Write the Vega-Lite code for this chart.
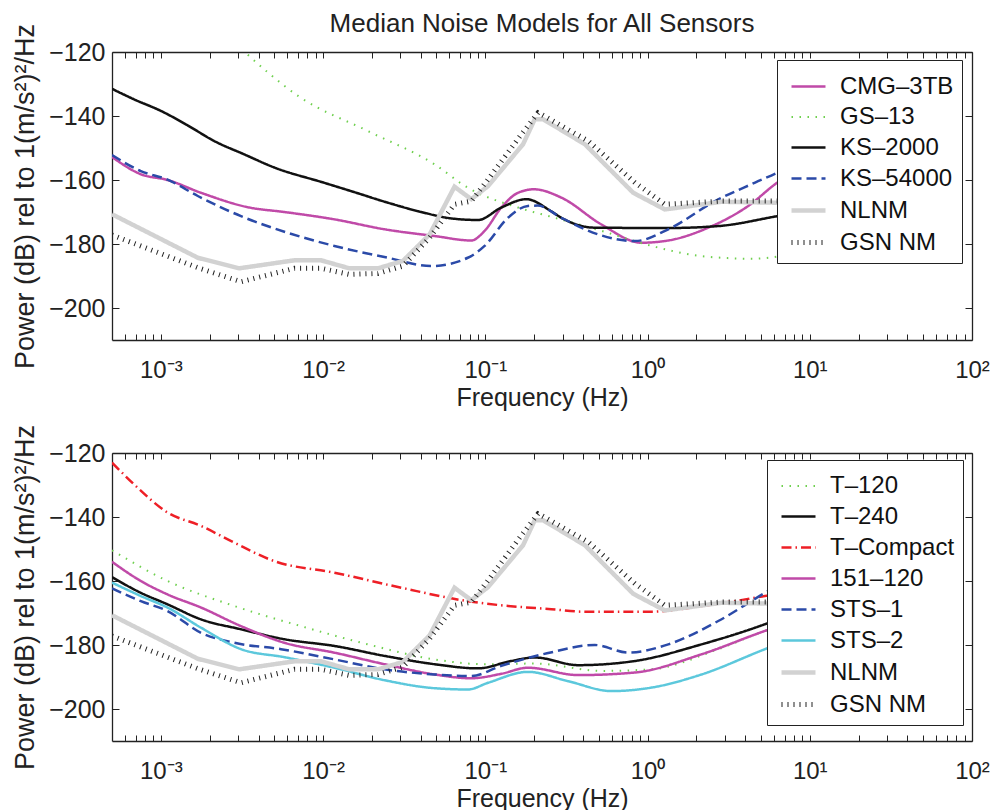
{
  "$schema": "https://vega.github.io/schema/vega-lite/v6.json",
  "title": {"text": "Median Noise Models for All Sensors", "fontSize": 26, "font": "Liberation Sans", "fontWeight": "normal", "color": "#222", "anchor": "middle", "frame": "group", "offset": -14},
  "padding": {"left": 11, "top": 11, "right": 5, "bottom": 0},
  "datasets": {
    "top": [
      {"s": "CMG–3TB", "f": 0.0005, "db": -152.8},
      {"s": "CMG–3TB", "f": 0.000753, "db": -158.2},
      {"s": "CMG–3TB", "f": 0.0011, "db": -160},
      {"s": "CMG–3TB", "f": 0.00177, "db": -164},
      {"s": "CMG–3TB", "f": 0.00351, "db": -168.6},
      {"s": "CMG–3TB", "f": 0.00577, "db": -170},
      {"s": "CMG–3TB", "f": 0.01175, "db": -172.3},
      {"s": "CMG–3TB", "f": 0.0239, "db": -175.4},
      {"s": "CMG–3TB", "f": 0.0486, "db": -177.5},
      {"s": "CMG–3TB", "f": 0.082, "db": -178.9},
      {"s": "CMG–3TB", "f": 0.099, "db": -175.9},
      {"s": "CMG–3TB", "f": 0.1256, "db": -168.6},
      {"s": "CMG–3TB", "f": 0.159, "db": -164},
      {"s": "CMG–3TB", "f": 0.2, "db": -162.9},
      {"s": "CMG–3TB", "f": 0.294, "db": -165.5},
      {"s": "CMG–3TB", "f": 0.52, "db": -173.9},
      {"s": "CMG–3TB", "f": 0.918, "db": -179.6},
      {"s": "CMG–3TB", "f": 1.343, "db": -178.9},
      {"s": "CMG–3TB", "f": 2.366, "db": -174.9},
      {"s": "CMG–3TB", "f": 4.178, "db": -168.1},
      {"s": "CMG–3TB", "f": 6.31, "db": -160.8},
      {"s": "CMG–3TB", "f": 9, "db": -156},
      {"s": "GS–13", "f": 0.0029, "db": -117.5},
      {"s": "GS–13", "f": 0.0073, "db": -134.3},
      {"s": "GS–13", "f": 0.0189, "db": -144.7},
      {"s": "GS–13", "f": 0.0486, "db": -155.1},
      {"s": "GS–13", "f": 0.078, "db": -162.4},
      {"s": "GS–13", "f": 0.159, "db": -168.6},
      {"s": "GS–13", "f": 0.255, "db": -171.5},
      {"s": "GS–13", "f": 0.52, "db": -175.9},
      {"s": "GS–13", "f": 1.059, "db": -180.6},
      {"s": "GS–13", "f": 2.153, "db": -183.8},
      {"s": "GS–13", "f": 4.385, "db": -184.6},
      {"s": "GS–13", "f": 7.745, "db": -183.2},
      {"s": "GS–13", "f": 10, "db": -182},
      {"s": "KS–2000", "f": 0.0005, "db": -131.5},
      {"s": "KS–2000", "f": 0.000684, "db": -134.8},
      {"s": "KS–2000", "f": 0.001, "db": -138.4},
      {"s": "KS–2000", "f": 0.00146, "db": -142.9},
      {"s": "KS–2000", "f": 0.00213, "db": -147.8},
      {"s": "KS–2000", "f": 0.00327, "db": -152},
      {"s": "KS–2000", "f": 0.00501, "db": -156.1},
      {"s": "KS–2000", "f": 0.01005, "db": -160.8},
      {"s": "KS–2000", "f": 0.0156, "db": -163.8},
      {"s": "KS–2000", "f": 0.0251, "db": -167.1},
      {"s": "KS–2000", "f": 0.0403, "db": -170},
      {"s": "KS–2000", "f": 0.0617, "db": -172},
      {"s": "KS–2000", "f": 0.0902, "db": -172.5},
      {"s": "KS–2000", "f": 0.1256, "db": -168.6},
      {"s": "KS–2000", "f": 0.1791, "db": -166},
      {"s": "KS–2000", "f": 0.2553, "db": -169.8},
      {"s": "KS–2000", "f": 0.2944, "db": -171.8},
      {"s": "KS–2000", "f": 0.4732, "db": -174.9},
      {"s": "KS–2000", "f": 1.343, "db": -175},
      {"s": "KS–2000", "f": 2.729, "db": -174.4},
      {"s": "KS–2000", "f": 6.31, "db": -171.3},
      {"s": "KS–2000", "f": 10, "db": -169.5},
      {"s": "KS–54000", "f": 0.0005, "db": -152.2},
      {"s": "KS–54000", "f": 0.000753, "db": -157.2},
      {"s": "KS–54000", "f": 0.0011, "db": -159.9},
      {"s": "KS–54000", "f": 0.00169, "db": -165},
      {"s": "KS–54000", "f": 0.00312, "db": -171.3},
      {"s": "KS–54000", "f": 0.00605, "db": -176.5},
      {"s": "KS–54000", "f": 0.01175, "db": -180.6},
      {"s": "KS–54000", "f": 0.0251, "db": -184.3},
      {"s": "KS–54000", "f": 0.0465, "db": -186.9},
      {"s": "KS–54000", "f": 0.078, "db": -184.3},
      {"s": "KS–54000", "f": 0.099, "db": -180.6},
      {"s": "KS–54000", "f": 0.138, "db": -171.8},
      {"s": "KS–54000", "f": 0.1832, "db": -168.1},
      {"s": "KS–54000", "f": 0.21, "db": -168},
      {"s": "KS–54000", "f": 0.2944, "db": -171.8},
      {"s": "KS–54000", "f": 0.4955, "db": -177},
      {"s": "KS–54000", "f": 0.8356, "db": -179.1},
      {"s": "KS–54000", "f": 1.343, "db": -175.4},
      {"s": "KS–54000", "f": 2.606, "db": -166.6},
      {"s": "KS–54000", "f": 4.603, "db": -160.8},
      {"s": "KS–54000", "f": 6.31, "db": -157.7},
      {"s": "KS–54000", "f": 10, "db": -152}
    ],
    "refs": [
      {"s": "NLNM", "f": 0.0005, "db": -170.7},
      {"s": "NLNM", "f": 0.00169, "db": -184.3},
      {"s": "NLNM", "f": 0.00304, "db": -187.6},
      {"s": "NLNM", "f": 0.00665, "db": -185.1},
      {"s": "NLNM", "f": 0.00973, "db": -185.1},
      {"s": "NLNM", "f": 0.01452, "db": -187.6},
      {"s": "NLNM", "f": 0.02178, "db": -187.6},
      {"s": "NLNM", "f": 0.03105, "db": -185.3},
      {"s": "NLNM", "f": 0.04539, "db": -177},
      {"s": "NLNM", "f": 0.06457, "db": -162.1},
      {"s": "NLNM", "f": 0.08204, "db": -166},
      {"s": "NLNM", "f": 0.104, "db": -161.9},
      {"s": "NLNM", "f": 0.171, "db": -148.8},
      {"s": "NLNM", "f": 0.2018, "db": -141},
      {"s": "NLNM", "f": 0.227, "db": -141},
      {"s": "NLNM", "f": 0.4102, "db": -148.8},
      {"s": "NLNM", "f": 0.8166, "db": -164},
      {"s": "NLNM", "f": 1.279, "db": -169.2},
      {"s": "NLNM", "f": 2.864, "db": -166.8},
      {"s": "NLNM", "f": 6.31, "db": -167.1},
      {"s": "NLNM", "f": 10, "db": -168},
      {"s": "GSN NM", "f": 0.0005, "db": -177.2},
      {"s": "GSN NM", "f": 0.00169, "db": -187.4},
      {"s": "GSN NM", "f": 0.00312, "db": -191.8},
      {"s": "GSN NM", "f": 0.00665, "db": -187.6},
      {"s": "GSN NM", "f": 0.00973, "db": -187.6},
      {"s": "GSN NM", "f": 0.01452, "db": -189.5},
      {"s": "GSN NM", "f": 0.02178, "db": -189.2},
      {"s": "GSN NM", "f": 0.03105, "db": -186.9},
      {"s": "GSN NM", "f": 0.04539, "db": -178},
      {"s": "GSN NM", "f": 0.06457, "db": -167.6},
      {"s": "GSN NM", "f": 0.08204, "db": -166.6},
      {"s": "GSN NM", "f": 0.104, "db": -159.8},
      {"s": "GSN NM", "f": 0.1671, "db": -145.7},
      {"s": "GSN NM", "f": 0.2113, "db": -139},
      {"s": "GSN NM", "f": 0.2218, "db": -139.5},
      {"s": "GSN NM", "f": 0.4305, "db": -147.8},
      {"s": "GSN NM", "f": 0.8356, "db": -160.8},
      {"s": "GSN NM", "f": 1.279, "db": -167.6},
      {"s": "GSN NM", "f": 2.864, "db": -166.6},
      {"s": "GSN NM", "f": 6.31, "db": -166.6},
      {"s": "GSN NM", "f": 10, "db": -166.5}
    ],
    "bottom": [
      {"s": "T–120", "f": 0.0005, "db": -150.4},
      {"s": "T–120", "f": 0.0011, "db": -160},
      {"s": "T–120", "f": 0.00283, "db": -167.8},
      {"s": "T–120", "f": 0.0073, "db": -174.1},
      {"s": "T–120", "f": 0.0189, "db": -179.8},
      {"s": "T–120", "f": 0.0486, "db": -184.5},
      {"s": "T–120", "f": 0.0991, "db": -186},
      {"s": "T–120", "f": 0.2018, "db": -185.8},
      {"s": "T–120", "f": 0.52, "db": -188.1},
      {"s": "T–120", "f": 1.059, "db": -187.6},
      {"s": "T–120", "f": 2.729, "db": -181.3},
      {"s": "T–120", "f": 5.297, "db": -175.6},
      {"s": "T–120", "f": 10, "db": -171},
      {"s": "T–240", "f": 0.0005, "db": -158.8},
      {"s": "T–240", "f": 0.000753, "db": -163.7},
      {"s": "T–240", "f": 0.0011, "db": -167.3},
      {"s": "T–240", "f": 0.00177, "db": -172},
      {"s": "T–240", "f": 0.00312, "db": -175.1},
      {"s": "T–240", "f": 0.00577, "db": -178.2},
      {"s": "T–240", "f": 0.01175, "db": -180.3},
      {"s": "T–240", "f": 0.0239, "db": -183.4},
      {"s": "T–240", "f": 0.0486, "db": -186},
      {"s": "T–240", "f": 0.0902, "db": -187.3},
      {"s": "T–240", "f": 0.1445, "db": -185},
      {"s": "T–240", "f": 0.2018, "db": -183.9},
      {"s": "T–240", "f": 0.3741, "db": -186.3},
      {"s": "T–240", "f": 0.8356, "db": -185},
      {"s": "T–240", "f": 2.153, "db": -179.8},
      {"s": "T–240", "f": 5.297, "db": -173.5},
      {"s": "T–240", "f": 10, "db": -168},
      {"s": "T–Compact", "f": 0.0005, "db": -123},
      {"s": "T–Compact", "f": 0.000684, "db": -129.8},
      {"s": "T–Compact", "f": 0.0011, "db": -138.6},
      {"s": "T–Compact", "f": 0.00177, "db": -142.8},
      {"s": "T–Compact", "f": 0.00283, "db": -148},
      {"s": "T–Compact", "f": 0.00501, "db": -153.8},
      {"s": "T–Compact", "f": 0.01175, "db": -157.4},
      {"s": "T–Compact", "f": 0.0303, "db": -162.1},
      {"s": "T–Compact", "f": 0.078, "db": -166.3},
      {"s": "T–Compact", "f": 0.1256, "db": -167.6},
      {"s": "T–Compact", "f": 0.2553, "db": -168.8},
      {"s": "T–Compact", "f": 0.4102, "db": -169.6},
      {"s": "T–Compact", "f": 1.059, "db": -169.6},
      {"s": "T–Compact", "f": 2.153, "db": -167.8},
      {"s": "T–Compact", "f": 5.297, "db": -164.7},
      {"s": "T–Compact", "f": 10, "db": -162},
      {"s": "151–120", "f": 0.0005, "db": -154},
      {"s": "151–120", "f": 0.000753, "db": -160},
      {"s": "151–120", "f": 0.0011, "db": -164.2},
      {"s": "151–120", "f": 0.00177, "db": -168.3},
      {"s": "151–120", "f": 0.00312, "db": -174.1},
      {"s": "151–120", "f": 0.00577, "db": -179.3},
      {"s": "151–120", "f": 0.01175, "db": -182.4},
      {"s": "151–120", "f": 0.0239, "db": -186},
      {"s": "151–120", "f": 0.0486, "db": -189.2},
      {"s": "151–120", "f": 0.082, "db": -190.4},
      {"s": "151–120", "f": 0.1256, "db": -189},
      {"s": "151–120", "f": 0.1832, "db": -187.1},
      {"s": "151–120", "f": 0.3741, "db": -189.4},
      {"s": "151–120", "f": 0.8356, "db": -188.6},
      {"s": "151–120", "f": 2.153, "db": -182.9},
      {"s": "151–120", "f": 5.297, "db": -175.6},
      {"s": "151–120", "f": 10, "db": -171},
      {"s": "STS–1", "f": 0.0005, "db": -162.3},
      {"s": "STS–1", "f": 0.000753, "db": -166.3},
      {"s": "STS–1", "f": 0.0011, "db": -169.4},
      {"s": "STS–1", "f": 0.00177, "db": -176.2},
      {"s": "STS–1", "f": 0.00283, "db": -179.3},
      {"s": "STS–1", "f": 0.00551, "db": -181.3},
      {"s": "STS–1", "f": 0.01175, "db": -184.5},
      {"s": "STS–1", "f": 0.0239, "db": -187.6},
      {"s": "STS–1", "f": 0.0486, "db": -189.2},
      {"s": "STS–1", "f": 0.082, "db": -189.7},
      {"s": "STS–1", "f": 0.1256, "db": -186.5},
      {"s": "STS–1", "f": 0.24, "db": -182.6},
      {"s": "STS–1", "f": 0.4732, "db": -180},
      {"s": "STS–1", "f": 0.7603, "db": -182.4},
      {"s": "STS–1", "f": 1.343, "db": -179.8},
      {"s": "STS–1", "f": 2.729, "db": -172.5},
      {"s": "STS–1", "f": 5.297, "db": -163.7},
      {"s": "STS–1", "f": 10, "db": -156},
      {"s": "STS–2", "f": 0.0005, "db": -160.5},
      {"s": "STS–2", "f": 0.000753, "db": -164.7},
      {"s": "STS–2", "f": 0.0011, "db": -168.3},
      {"s": "STS–2", "f": 0.00177, "db": -174.6},
      {"s": "STS–2", "f": 0.00312, "db": -181.3},
      {"s": "STS–2", "f": 0.00577, "db": -183.8},
      {"s": "STS–2", "f": 0.01175, "db": -187.1},
      {"s": "STS–2", "f": 0.0239, "db": -191},
      {"s": "STS–2", "f": 0.0486, "db": -193.5},
      {"s": "STS–2", "f": 0.0782, "db": -193.9},
      {"s": "STS–2", "f": 0.104, "db": -191.8},
      {"s": "STS–2", "f": 0.1832, "db": -188.4},
      {"s": "STS–2", "f": 0.3236, "db": -191.3},
      {"s": "STS–2", "f": 0.5998, "db": -194.4},
      {"s": "STS–2", "f": 1.059, "db": -193.3},
      {"s": "STS–2", "f": 2.153, "db": -189.2},
      {"s": "STS–2", "f": 5.297, "db": -181.3},
      {"s": "STS–2", "f": 10, "db": -176}
    ]
  },
  "spacing": 113,
  "bounds": "flush",
  "resolve": {
    "scale": {"color": "independent", "strokeDash": "independent", "strokeWidth": "independent"},
    "legend": {"color": "independent", "strokeDash": "independent", "strokeWidth": "independent"}
  },
  "vconcat": [
    {
      "width": 860,
      "height": 288,
      "resolve": {"axis": {"x": "independent", "y": "independent"}},
      "layer": [
        {
          "data": {"name": "top"},
          "mark": {"type": "line", "clip": true, "strokeCap": "butt", "interpolate": "monotone"},
          "encoding": {
            "x": {"field": "f", "type": "quantitative", "scale": {"type": "log", "domain": [0.0005, 100]},
              "axis": {"orient": "bottom", "title": "Frequency (Hz)", "values": [0.0006,0.0007,0.0008,0.0009,0.001,0.002,0.003,0.004,0.005,0.006,0.007,0.008,0.009,0.01,0.02,0.03,0.04,0.05,0.06,0.07,0.08,0.09,0.1,0.2,0.3,0.4,0.5,0.6,0.7,0.8,0.9,1,2,3,4,5,6,7,8,9,10,20,30,40,50,60,70,80,90,100],
                "labelExpr": "datum.value == 0.001 ? '10⁻³' : datum.value == 0.01 ? '10⁻²' : datum.value == 0.1 ? '10⁻¹' : datum.value == 1 ? '10⁰' : datum.value == 10 ? '10¹' : datum.value == 100 ? '10²' : ''",
                "tickSize": -6, "labelPadding": 24, "labelOverlap": false, "labelFlush": false, "titlePadding": 3}},
            "y": {"field": "db", "type": "quantitative", "scale": {"domain": [-210, -120]},
              "axis": {"orient": "left", "title": "Power (dB) rel to 1(m/s²)²/Hz", "titleFontSize": 27, "values": [-200, -180, -160, -140, -120], "tickSize": -7, "labelPadding": 14, "labelFontSize": 25, "titlePadding": 9}},
            "color": {"field": "s", "type": "nominal",
              "legend": {"title": null, "orient": "none", "legendX": 665, "legendY": 8},
              "scale": {"domain": ["CMG–3TB", "GS–13", "KS–2000", "KS–54000", "NLNM", "GSN NM"], "range": ["#c04aa8", "#6fd04f", "#111111", "#2b4aa8", "#d2d2d2", "#222222"]}},
            "strokeDash": {"field": "s", "type": "nominal", "title": null,
              "scale": {"domain": ["CMG–3TB", "GS–13", "KS–2000", "KS–54000", "NLNM", "GSN NM"], "range": [[1, 0], [1.5, 6.5], [1, 0], [10, 5], [1, 0], [1, 5]]}},
            "strokeWidth": {"field": "s", "type": "nominal", "title": null,
              "scale": {"type": "ordinal", "domain": ["CMG–3TB", "GS–13", "KS–2000", "KS–54000", "NLNM", "GSN NM"], "range": [2.5, 2, 2.5, 2.5, 4.5, 5]}}
          }
        },
        {
          "data": {"name": "refs"},
          "mark": {"type": "line", "clip": true, "strokeCap": "butt"},
          "encoding": {
            "x": {"field": "f", "type": "quantitative", "scale": {"type": "log", "domain": [0.0005, 100]},
              "axis": {"orient": "top", "title": null, "labels": false, "values": [0.0006,0.0007,0.0008,0.0009,0.001,0.002,0.003,0.004,0.005,0.006,0.007,0.008,0.009,0.01,0.02,0.03,0.04,0.05,0.06,0.07,0.08,0.09,0.1,0.2,0.3,0.4,0.5,0.6,0.7,0.8,0.9,1,2,3,4,5,6,7,8,9,10,20,30,40,50,60,70,80,90,100], "tickSize": -6}},
            "y": {"field": "db", "type": "quantitative", "scale": {"domain": [-210, -120]},
              "axis": {"orient": "right", "title": null, "labels": false, "values": [-200, -180, -160, -140, -120], "tickSize": -7}},
            "color": {"field": "s", "type": "nominal",
              "legend": {"title": null, "orient": "none", "legendX": 665, "legendY": 8},
              "scale": {"domain": ["CMG–3TB", "GS–13", "KS–2000", "KS–54000", "NLNM", "GSN NM"], "range": ["#c04aa8", "#6fd04f", "#111111", "#2b4aa8", "#d2d2d2", "#222222"]}},
            "strokeDash": {"field": "s", "type": "nominal", "title": null,
              "scale": {"domain": ["CMG–3TB", "GS–13", "KS–2000", "KS–54000", "NLNM", "GSN NM"], "range": [[1, 0], [1.5, 6.5], [1, 0], [10, 5], [1, 0], [1, 5]]}},
            "strokeWidth": {"field": "s", "type": "nominal", "title": null,
              "scale": {"type": "ordinal", "domain": ["CMG–3TB", "GS–13", "KS–2000", "KS–54000", "NLNM", "GSN NM"], "range": [2.5, 2, 2.5, 2.5, 4.5, 5]}}
          }
        }
      ]
    },
    {
      "width": 860,
      "height": 288,
      "resolve": {"axis": {"x": "independent", "y": "independent"}},
      "layer": [
        {
          "data": {"name": "bottom"},
          "mark": {"type": "line", "clip": true, "strokeCap": "butt", "interpolate": "monotone"},
          "encoding": {
            "x": {"field": "f", "type": "quantitative", "scale": {"type": "log", "domain": [0.0005, 100]},
              "axis": {"orient": "bottom", "title": "Frequency (Hz)", "values": [0.0006,0.0007,0.0008,0.0009,0.001,0.002,0.003,0.004,0.005,0.006,0.007,0.008,0.009,0.01,0.02,0.03,0.04,0.05,0.06,0.07,0.08,0.09,0.1,0.2,0.3,0.4,0.5,0.6,0.7,0.8,0.9,1,2,3,4,5,6,7,8,9,10,20,30,40,50,60,70,80,90,100],
                "labelExpr": "datum.value == 0.001 ? '10⁻³' : datum.value == 0.01 ? '10⁻²' : datum.value == 0.1 ? '10⁻¹' : datum.value == 1 ? '10⁰' : datum.value == 10 ? '10¹' : datum.value == 100 ? '10²' : ''",
                "tickSize": -6, "labelPadding": 24, "labelOverlap": false, "labelFlush": false, "titlePadding": 3}},
            "y": {"field": "db", "type": "quantitative", "scale": {"domain": [-210, -120]},
              "axis": {"orient": "left", "title": "Power (dB) rel to 1(m/s²)²/Hz", "titleFontSize": 27, "values": [-200, -180, -160, -140, -120], "tickSize": -7, "labelPadding": 14, "labelFontSize": 25, "titlePadding": 9}},
            "color": {"field": "s", "type": "nominal",
              "legend": {"title": null, "orient": "none", "legendX": 655, "legendY": 7},
              "scale": {"domain": ["T–120", "T–240", "T–Compact", "151–120", "STS–1", "STS–2", "NLNM", "GSN NM"], "range": ["#6fd04f", "#111111", "#ee1f26", "#c04aa8", "#2b4aa8", "#5cc8dc", "#d2d2d2", "#222222"]}},
            "strokeDash": {"field": "s", "type": "nominal", "title": null,
              "scale": {"domain": ["T–120", "T–240", "T–Compact", "151–120", "STS–1", "STS–2", "NLNM", "GSN NM"], "range": [[1.5, 6.5], [1, 0], [10, 4, 1.5, 4], [1, 0], [10, 5], [1, 0], [1, 0], [1, 5]]}},
            "strokeWidth": {"field": "s", "type": "nominal", "title": null,
              "scale": {"type": "ordinal", "domain": ["T–120", "T–240", "T–Compact", "151–120", "STS–1", "STS–2", "NLNM", "GSN NM"], "range": [2, 2.5, 2.5, 2.5, 2.5, 2.5, 4.5, 5]}}
          }
        },
        {
          "data": {"name": "refs"},
          "mark": {"type": "line", "clip": true, "strokeCap": "butt"},
          "encoding": {
            "x": {"field": "f", "type": "quantitative", "scale": {"type": "log", "domain": [0.0005, 100]},
              "axis": {"orient": "top", "title": null, "labels": false, "values": [0.0006,0.0007,0.0008,0.0009,0.001,0.002,0.003,0.004,0.005,0.006,0.007,0.008,0.009,0.01,0.02,0.03,0.04,0.05,0.06,0.07,0.08,0.09,0.1,0.2,0.3,0.4,0.5,0.6,0.7,0.8,0.9,1,2,3,4,5,6,7,8,9,10,20,30,40,50,60,70,80,90,100], "tickSize": -6}},
            "y": {"field": "db", "type": "quantitative", "scale": {"domain": [-210, -120]},
              "axis": {"orient": "right", "title": null, "labels": false, "values": [-200, -180, -160, -140, -120], "tickSize": -7}},
            "color": {"field": "s", "type": "nominal",
              "legend": {"title": null, "orient": "none", "legendX": 655, "legendY": 7},
              "scale": {"domain": ["T–120", "T–240", "T–Compact", "151–120", "STS–1", "STS–2", "NLNM", "GSN NM"], "range": ["#6fd04f", "#111111", "#ee1f26", "#c04aa8", "#2b4aa8", "#5cc8dc", "#d2d2d2", "#222222"]}},
            "strokeDash": {"field": "s", "type": "nominal", "title": null,
              "scale": {"domain": ["T–120", "T–240", "T–Compact", "151–120", "STS–1", "STS–2", "NLNM", "GSN NM"], "range": [[1.5, 6.5], [1, 0], [10, 4, 1.5, 4], [1, 0], [10, 5], [1, 0], [1, 0], [1, 5]]}},
            "strokeWidth": {"field": "s", "type": "nominal", "title": null,
              "scale": {"type": "ordinal", "domain": ["T–120", "T–240", "T–Compact", "151–120", "STS–1", "STS–2", "NLNM", "GSN NM"], "range": [2, 2.5, 2.5, 2.5, 2.5, 2.5, 4.5, 5]}}
          }
        }
      ]
    }
  ],
  "config": {
    "font": "Liberation Sans",
    "view": {"stroke": null},
    "axis": {"labelFont": "Liberation Sans", "titleFont": "Liberation Sans", "labelColor": "#222", "titleColor": "#222", "titleFontWeight": "normal", "labelFontSize": 24, "titleFontSize": 25, "domainColor": "#222", "tickColor": "#222", "domainWidth": 1.3, "tickWidth": 1, "grid": false},
    "legend": {"labelFont": "Liberation Sans", "labelFontSize": 24, "labelColor": "#111", "strokeColor": "#222", "fillColor": "#ffffff", "padding": 8, "symbolType": "stroke", "symbolSize": 1156, "symbolOffset": 4, "labelOffset": 12, "rowPadding": 0, "symbolLimit": 0, "labelLimit": 300}
  }
}
